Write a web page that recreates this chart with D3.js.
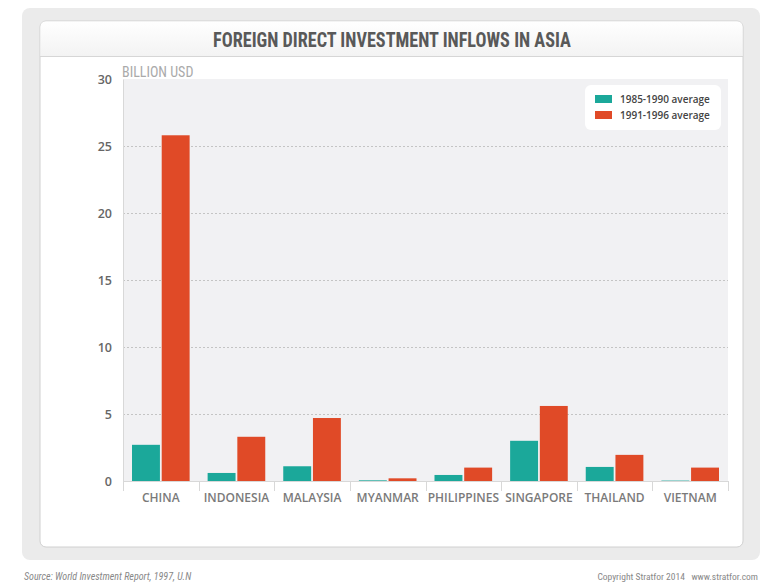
<!DOCTYPE html>
<html><head><meta charset="utf-8">
<script src="https://cdn.jsdelivr.net/npm/d3@7"></script>
<style>body{margin:0;background:#fff;} svg{display:block;}</style>
</head><body>
<svg id="chart" width="784" height="585"></svg>
<script>
const categories = ["CHINA","INDONESIA","MALAYSIA","MYANMAR","PHILIPPINES","SINGAPORE","THAILAND","VIETNAM"];
const series1Name = "1985-1990 average";
const series2Name = "1991-1996 average";
const series1 = [2.7, 0.6, 1.1, 0.05, 0.45, 3.0, 1.05, 0.03];
const series2 = [25.8, 3.3, 4.7, 0.2, 1.0, 5.6, 1.95, 1.0];
const yTicks = [0, 5, 10, 15, 20, 25, 30];
const colors = ["#1ba89a", "#e04a27"];

const svg = d3.select("#chart");
const condensed = "'Liberation Sans Narrow','Roboto Condensed','Arial Narrow',sans-serif";
const sans = "'Open Sans','Noto Sans',sans-serif";

// outer frame
svg.append("rect").attr("x",22).attr("y",8).attr("width",738).attr("height",552).attr("rx",8).attr("fill","#ebebeb");
svg.append("rect").attr("x",40).attr("y",21).attr("width",703).attr("height",526).attr("rx",6).attr("fill","#fff").attr("stroke","#d0d0d0");
const defs = svg.append("defs");
const g1 = defs.append("linearGradient").attr("id","hdr").attr("x1",0).attr("y1",0).attr("x2",0).attr("y2",1);
g1.append("stop").attr("offset","0%").attr("stop-color","#ffffff");
g1.append("stop").attr("offset","100%").attr("stop-color","#f3f3f3");
svg.append("path").attr("d","M40.5,56 V27 Q40.5,21.5 46,21.5 H737 Q742.5,21.5 742.5,27 V56 Z").attr("fill","url(#hdr)");
svg.append("line").attr("x1",40).attr("x2",743).attr("y1",56.5).attr("y2",56.5).attr("stroke","#d6d6d6");

svg.append("text").attr("x",392).attr("y",47).attr("text-anchor","middle")
  .attr("font-family",condensed).attr("font-weight","bold").attr("font-size",20).attr("fill","#595959")
  .attr("textLength",358).attr("lengthAdjust","spacingAndGlyphs")
  .text("FOREIGN DIRECT INVESTMENT INFLOWS IN ASIA");

const pLeft = 123, pRight = 728, pTop = 79, pBottom = 481;
const x = d3.scaleBand().domain(categories).range([pLeft, pRight]).paddingInner(0).paddingOuter(0);
const y = d3.scaleLinear().domain([0, 30]).range([pBottom, pTop]);

svg.append("rect").attr("x",pLeft).attr("y",pTop).attr("width",pRight-pLeft).attr("height",pBottom-pTop).attr("fill","#f1f1f3");

// gridlines
svg.append("g").selectAll("line").data(yTicks.filter(d=>d>0 && d<30)).join("line")
  .attr("x1",pLeft).attr("x2",pRight).attr("y1",d=>Math.round(y(d))+0.5).attr("y2",d=>Math.round(y(d))+0.5)
  .attr("stroke","#c4c4c4").attr("stroke-dasharray","2,2");

// y axis
const yAxis = svg.append("g").attr("transform",`translate(${pLeft},0)`)
  .call(d3.axisLeft(y).tickValues(yTicks).tickSize(0).tickPadding(11));
yAxis.select(".domain").attr("stroke","#d8d8d8");
yAxis.selectAll("text").attr("font-family",sans).attr("font-weight",600).attr("font-size",12.5).attr("fill","#666");

svg.append("text").attr("x",122).attr("y",77).attr("font-family",condensed).attr("font-size",14).attr("fill","#aaa").text("BILLION USD");

// bars
const inner = d3.scaleBand().domain([0,1]).range([9, x.bandwidth()-9]).paddingInner(0.06);
const data = categories.map((c,i)=>({c, v:[series1[i], series2[i]]}));
const grp = svg.append("g").selectAll("g").data(data).join("g").attr("transform",d=>`translate(${x(d.c)},0)`);
grp.selectAll("rect").data(d=>d.v.map((v,k)=>({v,k}))).join("rect")
  .attr("x",d=>inner(d.k)).attr("width",inner.bandwidth())
  .attr("y",d=>y(d.v)).attr("height",d=>pBottom-y(d.v)).attr("fill",d=>colors[d.k]);

// x axis
const xAxis = svg.append("g").attr("transform",`translate(0,${pBottom})`)
  .call(d3.axisBottom(x).tickSize(0).tickPadding(10));
xAxis.select(".domain").attr("stroke","#d8d8d8");
xAxis.selectAll("text").attr("font-family",sans).attr("font-weight",600).attr("font-size",12).attr("fill","#7a7a7a").attr("dy","0.9em");
svg.append("g").selectAll("line").data(categories.concat(["end"])).join("line")
  .attr("x1",(d,i)=>Math.round(pLeft + i*x.bandwidth())+0.5).attr("x2",(d,i)=>Math.round(pLeft + i*x.bandwidth())+0.5)
  .attr("y1",pBottom).attr("y2",pBottom+10).attr("stroke","#d8d8d8");

// legend
svg.append("rect").attr("x",585).attr("y",85).attr("width",136).attr("height",45).attr("rx",6).attr("fill","#fff");
const leg = svg.append("g").selectAll("g").data([series1Name, series2Name]).join("g")
  .attr("transform",(d,i)=>`translate(595,${95+i*16})`);
leg.append("rect").attr("width",17).attr("height",8).attr("fill",(d,i)=>colors[i]);
leg.append("text").attr("x",25).attr("y",8).attr("font-family",sans).attr("font-weight",600).attr("font-size",10).attr("fill","#444").text(d=>d);

// footer
svg.append("text").attr("x",24).attr("y",580).attr("font-family",condensed).attr("font-style","italic").attr("font-size",10).attr("fill","#888")
  .text("Source: World Investment Report, 1997, U.N");
svg.append("text").attr("x",758).attr("y",580).attr("text-anchor","end").attr("font-family",condensed).attr("font-size",9.5).attr("fill","#888")
  .style("white-space","pre").text("Copyright Stratfor 2014   www.stratfor.com");
</script>
</body></html>
